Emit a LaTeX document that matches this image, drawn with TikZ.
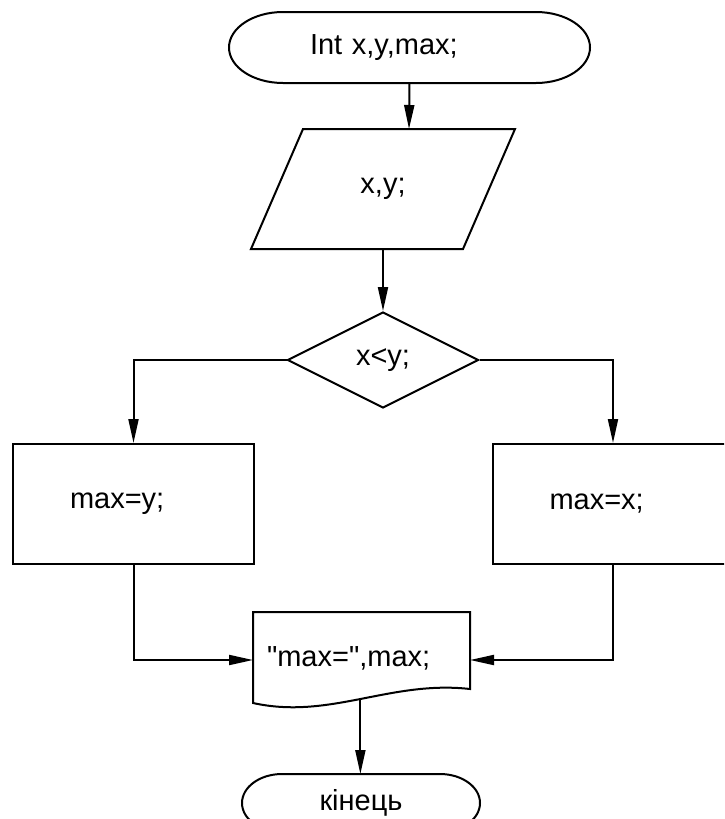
\documentclass[tikz,border=0pt]{standalone}
\usepackage{fontspec}
\setmainfont{Liberation Sans}
\usetikzlibrary{arrows.meta,shapes.geometric,calc}
\tikzset{
  termbox/.style={
    rectangle, inner ysep=0pt, outer sep=0pt,
    align=center
  },
  iobox/.style={
    rectangle, outer sep=0pt,
    minimum width=106pt, minimum height=60pt,
    inner sep=0pt, align=center
  },
  testbox/.style={
    diamond, draw,
    minimum width=95.5pt, minimum height=48pt, inner sep=0pt
  },
  procbox/.style={
    rectangle, draw,
    minimum height=60pt, inner xsep=28.5pt,
    text width=63.5pt, align=left
  },
  docbox/.style={
    rectangle, inner ysep=0pt, inner xsep=7pt, outer sep=0pt,
    minimum height=48pt, text width=94.5pt, align=left
  },
  arr/.style={-{Triangle[length=12pt,width=5pt]}},
}
% outline of a terminal: node, x radius, y radius
\newcommand{\termoutline}[3]{%
  \draw ([xshift=#2]#1.north west) -- ([xshift=-#2]#1.north east)
    arc[start angle=90, end angle=-90, x radius=#2, y radius=#3]
    -- ([xshift=#2]#1.south west)
    arc[start angle=270, end angle=90, x radius=#2, y radius=#3] -- cycle;}
% straight double quote, past the TeX quote mapping
\newcommand{\dq}{\XeTeXglyph\XeTeXcharglyph"22\relax}

\begin{document}
\begin{tikzpicture}[x=0.5pt, y=0.5pt, line width=1pt,
                    every node/.style={font=\fontsize{14.5pt}{17pt}\selectfont}]

  \clip (0,0) rectangle (724,-819);

  % ── Column positions ─────────────────────────────────────────────────────
  \def\colL{133.5}   % max=y
  \def\colM{383}     % input / test
  \def\colR{613}     % max=x

  % ── Start + input ────────────────────────────────────────────────────────
  \node[termbox, inner xsep=40.5pt, text width=99.5pt, align=left,
        minimum height=35.5pt] (start) at (409.5,-47.5) {Int x,y,max;};
  \termoutline{start}{27pt}{17.75pt}

  \node[iobox] (in) at (\colM,-189) {x,y;};
  \draw ([xshift=13pt]in.north west) -- ([xshift=13pt]in.north east)
    -- ([xshift=-13pt]in.south east) -- ([xshift=-13pt]in.south west) -- cycle;

  % ── Test ─────────────────────────────────────────────────────────────────
  \node[testbox] (test) at (\colM,-360) {x<y;};

  \node[procbox] (left)  at (\colL,-504) {max=y;};
  \node[procbox] (right) at (\colR,-504) {max=x;};

  % ── Output + end ─────────────────────────────────────────────────────────
  \node[docbox] (out) at (361.5,-660) {\raisebox{3.5pt}{\dq max=\dq,max;}};
  \draw (out.north west) -- (out.north east) -- ([yshift=9.5pt]out.south east)
    .. controls +(-40pt,4.5pt) and +(38.5pt,-8.5pt) .. ([yshift=2.5pt]out.south west)
    coordinate[pos=0.5] (outb) -- cycle;

  \node[termbox, minimum width=119pt, minimum height=29pt] (stop) at (361,-803)
    {кінець};
  \termoutline{stop}{20pt}{14.5pt}

  % ── Connectors ───────────────────────────────────────────────────────────
  \draw[arr] (start.south) -- ([xshift=13pt]in.north);
  \draw[arr] (in.south) -- (test.north);
  \draw[arr] (test.west) -| (left.north);
  \draw[arr] (test.east) -| (right.north);
  \draw[arr] (left.south) |- (out.west);
  \draw[arr] (right.south) |- (out.east);
  \draw[arr] (outb) -- (outb |- stop.north);

\end{tikzpicture}
\end{document}
